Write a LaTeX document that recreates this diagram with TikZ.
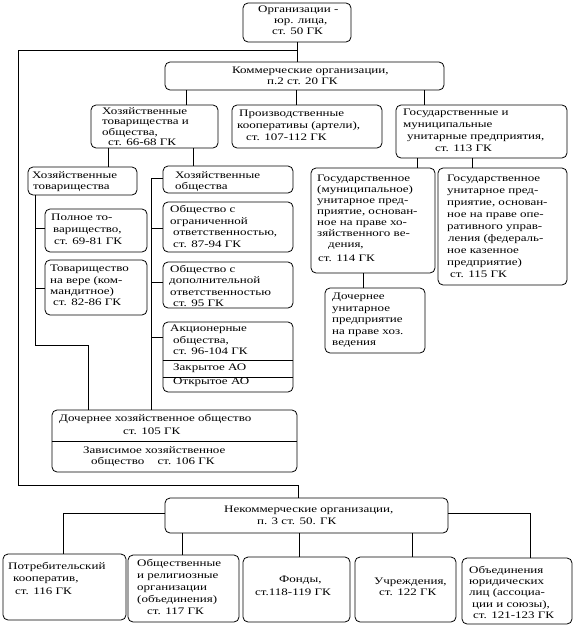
\documentclass[tikz,border=0pt]{standalone}
\usepackage{fontspec}
\setmainfont{Liberation Serif}[FakeStretch=1.3]
\usetikzlibrary{calc}
\tikzset{
  box/.style={draw, line width=0.8pt, rounded corners=5pt, inner sep=0pt},
  txt/.style={inner sep=0pt, anchor=north west, align=left, font=\fontsize{10}{11.5}\selectfont},
  conn/.style={draw, line width=0.8pt},
}
\newcommand{\ind}[1]{\hspace*{#1pt}}
\begin{document}
\begin{tikzpicture}[x=1pt,y=-1pt]
\useasboundingbox (0,0) rectangle (584,635);
% boxes
\node[box, minimum width=108, minimum height=39] (top) at (297,22.5) {};
\node[box, minimum width=279, minimum height=28] (com) at (304.5,76) {};
\node[box, minimum width=127, minimum height=43] (b1) at (154.5,126.5) {};
\node[box, minimum width=150, minimum height=43] (b2) at (307,126.5) {};
\node[box, minimum width=171, minimum height=53] (b3) at (481.5,131.5) {};
\node[box, minimum width=109, minimum height=28] (ht) at (82.5,181) {};
\node[box, minimum width=130, minimum height=27] (ho) at (228,179.5) {};
\node[box, minimum width=102, minimum height=43] (pt) at (96,230.5) {};
\node[box, minimum width=102, minimum height=55] (tv) at (96,287.5) {};
\node[box, minimum width=130, minimum height=50] (ooo) at (228,227) {};
\node[box, minimum width=130, minimum height=46] (odo) at (228,285) {};
\node[box, minimum width=130, minimum height=70] (ao) at (228,357) {};
\node[box, minimum width=124, minimum height=105] (gm) at (373,220.5) {};
\node[box, minimum width=129, minimum height=117] (go) at (502.5,226.5) {};
\node[box, minimum width=100, minimum height=65] (du) at (375,320.5) {};
\node[box, minimum width=245, minimum height=62] (dh) at (174.5,441) {};
\node[box, minimum width=283, minimum height=35] (nk) at (306.5,515.5) {};
\node[box, minimum width=123, minimum height=66] (p1) at (64.5,587) {};
\node[box, minimum width=111, minimum height=67] (p2) at (183.5,588.5) {};
\node[box, minimum width=107, minimum height=65] (p3) at (296.5,589.5) {};
\node[box, minimum width=101, minimum height=65] (p4) at (405.5,589.5) {};
\node[box, minimum width=110, minimum height=66] (p5) at (517,591) {};
% inner dividing lines
\draw[conn] (ao.west |- 0,360) -- (ao.east |- 0,360);
\draw[conn] (ao.west |- 0,377) -- (ao.east |- 0,377);
\draw[conn] (dh.west |- 0,441) -- (dh.east |- 0,441);
% connectors
\draw[conn] (top.south) -- (top.south |- com.north);
\coordinate (lt) at (18,50);
\coordinate (lb) at (18,485);
\draw[conn] (top.south |- lt) -- (lt) -- (lb) -| ($(nk.north west)+(134,0)$);
\draw[conn] (com.south -| 186,0) -- (b1.north -| 186,0);
\draw[conn] (com.south -| 296,0) -- (b2.north -| 296,0);
\draw[conn] (com.south -| 424,0) -- (b3.north -| 424,0);
\draw[conn] (b1.south -| 108,0) -- (ht.north -| 108,0);
\draw[conn] (b1.south -| 193,0) -- (ho.north -| 193,0);
\draw[conn] (b3.south -| 417,0) -- (gm.north -| 417,0);
\draw[conn] (b3.south -| 472,0) -- (go.north -| 472,0);
\draw[conn] (gm.south -| 363,0) -- (du.north -| 363,0);
\coordinate (lk) at (35,345);
\draw[conn] (ht.south -| lk) -- (lk) -| (dh.north -| 88,0);
\draw[conn] (35,228) -- (pt.west |- 0,228);
\draw[conn] (35,288) -- (tv.west |- 0,288);
\coordinate (rk) at (151,178);
\draw[conn] (ho.west |- rk) -- (rk) -- (dh.north -| rk);
\draw[conn] (151,228) -- (ooo.west |- 0,228);
\draw[conn] (151,282) -- (odo.west |- 0,282);
\draw[conn] (151,337) -- (ao.west |- 0,337);
\draw[conn] (nk.west |- 0,513) -| (p1.north -| 63,0);
\draw[conn] (nk.south -| 182,0) -- (p2.north -| 182,0);
\draw[conn] (nk.south -| 299,0) -- (p3.north -| 299,0);
\draw[conn] (nk.south -| 412,0) -- (p4.north -| 412,0);
\draw[conn] (nk.east |- 0,513) -| (p5.north -| 530,0);
% texts
\node[txt, font=\fontsize{10}{11}\selectfont] (ttop) at (258,6) {Организации -\\\ind{16}юр. лица,\\\ind{14}ст. 50 ГК};
\node[txt, font=\fontsize{10}{11}\selectfont] (tcom) at (232,67) {Коммерческие организации,\\\ind{35}п.2 ст. 20 ГК};
\node[txt, font=\fontsize{10}{10.5}\selectfont] (tb1) at (102,107) {Хозяйственные\\товарищества и\\общества,\\\ind{6}ст. 66-68 ГК};
\node[txt, font=\fontsize{10}{12}\selectfont] (tb2) at (237,110) {\ind{2}Производственные\\кооперативы (артели),\\\ind{9}ст. 107-112 ГК};
\node[txt, font=\fontsize{10}{12}\selectfont] (tb3) at (403,109) {Государственные и\\муниципальные\\\ind{4}унитарные предприятия,\\\ind{32}ст. 113 ГК};
\node[txt, font=\fontsize{10}{11}\selectfont] (tht) at (32,171) {Хозяйственные\\\ind{1}товарищества};
\node[txt, font=\fontsize{10}{11}\selectfont] (tho) at (175,171) {Хозяйственные\\общества};
\node[txt, font=\fontsize{10}{12}\selectfont] (tpt) at (51,214) {Полное то-\\\ind{2}варищество,\\\ind{3}ст. 69-81 ГК};
\node[txt, font=\fontsize{10}{11.3}\selectfont] (ttv) at (50,265) {Товарищество\\на вере (ком-\\мандитное)\\\ind{3}ст. 82-86 ГК};
\node[txt, font=\fontsize{10}{11.7}\selectfont] (tooo) at (170,205) {Общество с\\ограниченной\\\ind{3}ответственностью,\\\ind{3}ст. 87-94 ГК};
\node[txt, font=\fontsize{10}{11.5}\selectfont] (todo) at (169,265) {\ind{1}Общество с\\дополнительной\\\ind{1}ответственностью\\\ind{4}ст. 95 ГК};
\node[txt, font=\fontsize{10}{11.5}\selectfont] (tao) at (170,325) {Акционерные\\\ind{3}общества,\\\ind{3}ст. 96-104 ГК};
\node[txt] (tzao) at (173,364) {Закрытое АО};
\node[txt] (toao) at (173,378) {Открытое АО};
\node[txt, font=\fontsize{10}{11}\selectfont] (tgm) at (317,175) {Государственное\\(муниципальное)\\унитарное пред-\\приятие, основан-\\ное на праве хо-\\зяйственного ве-\\\ind{11}дения,\\[3pt]\ind{1}ст. 114 ГК};
\node[txt, font=\fontsize{10}{12}\selectfont] (tgo) at (447,175) {Государственное\\унитарное пред-\\приятие, основан-\\ное на праве опе-\\ративного управ-\\\ind{1}ления (федераль-\\ное казенное\\предприятие)\\\ind{3}ст. 115 ГК};
\node[txt, font=\fontsize{10}{11.5}\selectfont] (tdu) at (332,293) {Дочернее\\унитарное\\предприятие\\на праве хоз.\\ведения};
\node[txt, font=\fontsize{10}{13}\selectfont] (tdh1) at (59,414) {Дочернее хозяйственное общество\\\ind{64}ст. 105 ГК};
\node[txt, font=\fontsize{10}{11}\selectfont] (tdh2) at (83,446) {Зависимое хозяйственное\\\ind{8}общество\hspace{10pt} ст. 106 ГК};
\node[txt, font=\fontsize{10}{12}\selectfont] (tnk) at (224,506) {Некоммерческие организации,\\\ind{33}п. 3 ст. 50. ГК};
\node[txt, font=\fontsize{10}{12.5}\selectfont] (tp1) at (8,562) {Потребительский\\\ind{5}кооператив,\\\ind{7}ст. 116 ГК};
\node[txt, font=\fontsize{10}{12}\selectfont] (tp2) at (137,559) {Общественные\\и религиозные\\организации\\(объединения)\\\ind{10}ст. 117 ГК};
\node[txt, font=\fontsize{10}{13}\selectfont] (tp3) at (255,576) {\ind{24}Фонды,\\ст.118-119 ГК};
\node[txt, font=\fontsize{10}{11}\selectfont] (tp4) at (374,578) {Учреждения,\\\ind{5}ст. 122 ГК};
\node[txt, font=\fontsize{10}{11.3}\selectfont] (tp5) at (469,566) {Объединения\\юридических\\лиц (ассоциа-\\\ind{3}ции и союзы),\\\ind{4}ст. 121-123 ГК};
\end{tikzpicture}
\end{document}
